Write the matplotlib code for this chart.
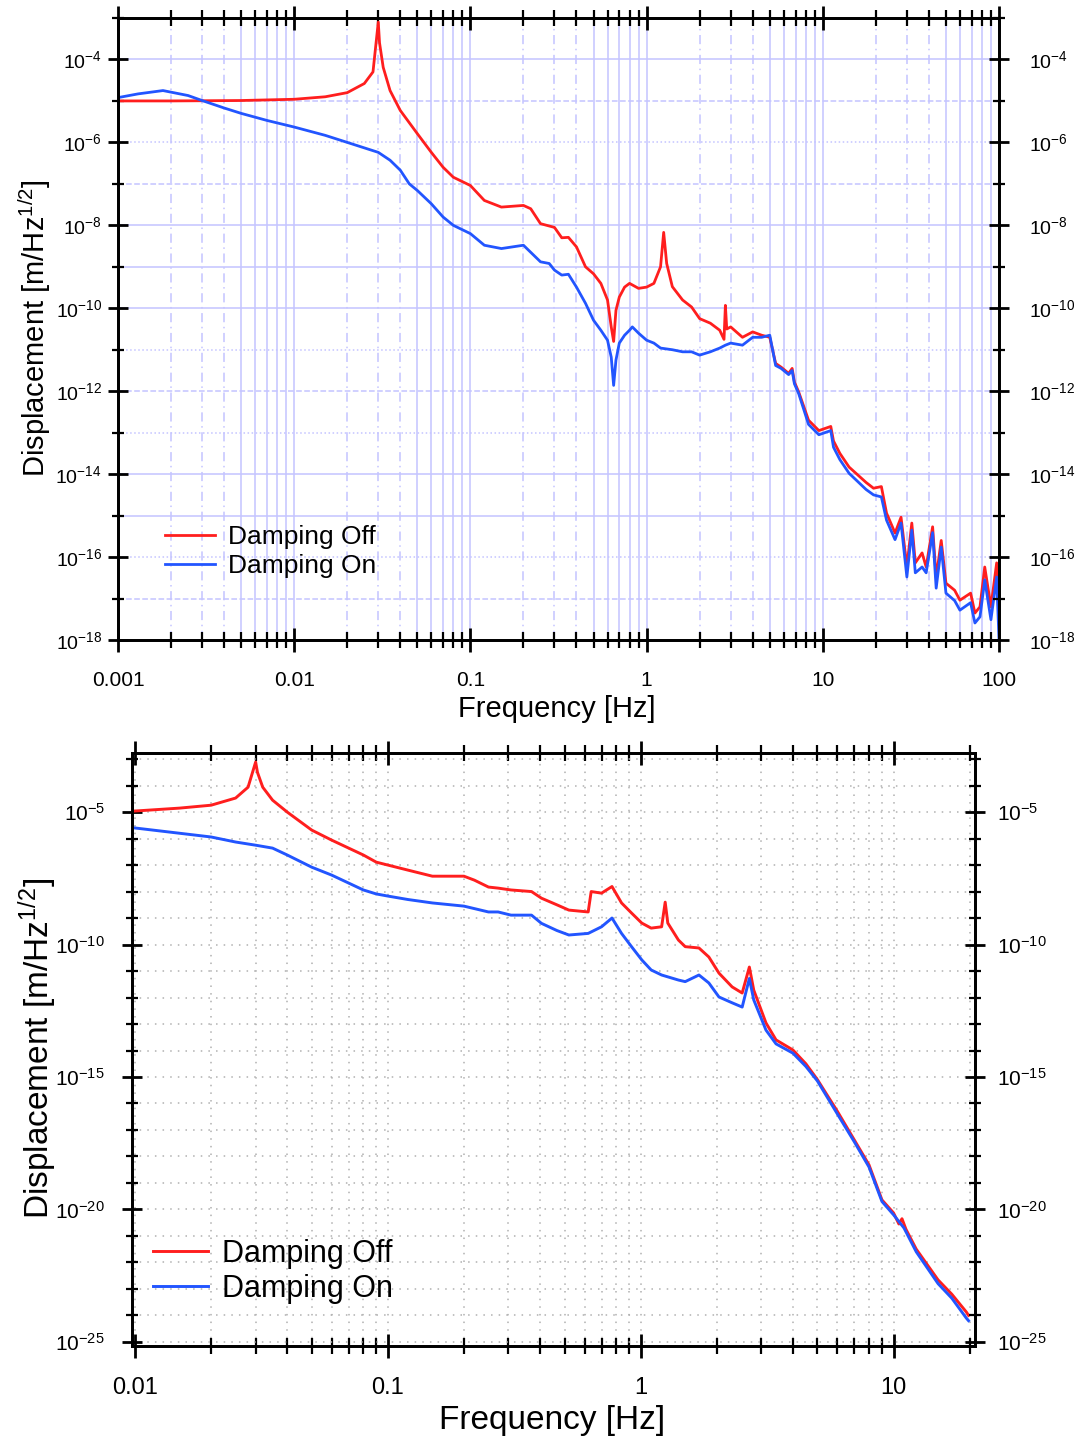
import matplotlib
matplotlib.use("Agg")
import matplotlib.pyplot as plt
import matplotlib.ticker as ticker
import numpy as np

plt.rcParams['font.family'] = ['Liberation Sans', 'DejaVu Sans']
plt.rcParams['mathtext.fontset'] = 'custom'
plt.rcParams['mathtext.rm'] = 'Liberation Sans'
plt.rcParams['mathtext.default'] = 'regular'

# ---- datos: panel superior (0.001 - 100 Hz), log10 del desplazamiento ----
f_top_off = [0.001, 0.002, 0.005, 0.01, 0.015, 0.02, 0.025, 0.028, 0.03, 0.0305,
             0.032, 0.035, 0.04, 0.05, 0.06, 0.07, 0.08, 0.1, 0.12, 0.15,
             0.2, 0.22, 0.25, 0.3, 0.33, 0.36, 0.4, 0.45, 0.5, 0.55,
             0.6, 0.63, 0.65, 0.67, 0.7, 0.75, 0.8, 0.9, 1.0, 1.1,
             1.2, 1.25, 1.3, 1.4, 1.6, 1.8, 2.0, 2.3, 2.6, 2.75,
             2.8, 2.85, 3.0, 3.5, 4.0, 4.5, 5.0, 5.4, 5.8, 6.4,
             6.7, 6.9, 7.3, 8.3, 9.5, 11.1, 11.5, 12.5, 14.1, 17.6,
             19.4, 21.5, 23, 25.7, 27.8, 30, 32, 33.5, 36.6, 38.6,
             42, 44, 47, 50, 56, 60, 69, 73, 78, 83,
             90, 97, 100]
log_top_off = [-5.0, -5.0, -4.99, -4.96, -4.9, -4.8, -4.58, -4.3, -3.1, -3.6,
               -4.19, -4.75, -5.23, -5.79, -6.24, -6.6, -6.84, -7.04, -7.4, -7.56,
               -7.52, -7.6, -7.96, -8.05, -8.3, -8.29, -8.52, -9.0, -9.17, -9.4,
               -9.8, -10.45, -10.8, -10.05, -9.73, -9.49, -9.4, -9.52, -9.49, -9.4,
               -9.0, -8.17, -8.92, -9.48, -9.8, -9.97, -10.25, -10.36, -10.53, -10.75,
               -9.93, -10.5, -10.45, -10.7, -10.57, -10.65, -10.7, -11.33, -11.42, -11.57,
               -11.45, -11.78, -12.02, -12.7, -12.95, -12.85, -13.2, -13.5, -13.83, -14.2,
               -14.34, -14.3, -14.94, -15.42, -15.04, -16.24, -15.18, -16.14, -15.9, -16.24,
               -15.27, -16.5, -15.6, -16.63, -16.8, -17.04, -16.87, -17.35, -17.2, -16.24,
               -17.2, -16.14, -17.59]

f_top_on = [0.001, 0.0013, 0.0018, 0.0025, 0.003, 0.004, 0.005, 0.007, 0.01, 0.015,
            0.02, 0.03, 0.035, 0.04, 0.045, 0.05, 0.06, 0.07, 0.08, 0.1,
            0.12, 0.15, 0.2, 0.25, 0.28, 0.3, 0.33, 0.36, 0.4, 0.45,
            0.5, 0.55, 0.6, 0.63, 0.65, 0.67, 0.7, 0.75, 0.8, 0.83,
            0.9, 1.0, 1.1, 1.2, 1.4, 1.6, 1.8, 2.0, 2.3, 2.6,
            2.8, 3.0, 3.5, 4.0, 4.5, 5.0, 5.4, 5.8, 6.4, 6.7,
            6.9, 7.3, 8.3, 9.5, 11.1, 11.5, 12.5, 14.1, 17.6, 19.4,
            21.5, 23, 25.7, 27.8, 30, 32, 33.5, 36.6, 38.6, 42,
            44, 47, 50, 56, 60, 69, 73, 78, 83, 90,
            97, 100]
log_top_on = [-4.92, -4.83, -4.75, -4.87, -4.99, -5.17, -5.3, -5.47, -5.63, -5.83,
              -6.0, -6.24, -6.43, -6.67, -7.0, -7.16, -7.48, -7.8, -8.0, -8.2,
              -8.48, -8.56, -8.48, -8.88, -8.92, -9.08, -9.2, -9.18, -9.49, -9.88,
              -10.29, -10.53, -10.77, -11.18, -11.86, -11.25, -10.84, -10.65, -10.53, -10.45,
              -10.6, -10.77, -10.84, -10.96, -11.0, -11.05, -11.05, -11.13, -11.05, -10.96,
              -10.89, -10.84, -10.89, -10.7, -10.7, -10.65, -11.38, -11.45, -11.6, -11.5,
              -11.82, -12.06, -12.8, -13.05, -12.95, -13.35, -13.65, -13.98, -14.37, -14.5,
              -14.55, -15.11, -15.58, -15.18, -16.48, -15.35, -16.38, -16.24, -16.38, -15.41,
              -16.75, -15.76, -16.87, -17.05, -17.28, -17.1, -17.59, -17.44, -16.55, -17.51,
              -16.48, -18.0]

# ---- datos: panel inferior (0.01 - 20 Hz) ----
f_bot_off = [0.01, 0.015, 0.02, 0.025, 0.028, 0.03, 0.0305, 0.032, 0.035, 0.04,
             0.05, 0.06, 0.07, 0.08, 0.09, 0.1, 0.12, 0.15, 0.2, 0.22,
             0.25, 0.273, 0.307, 0.37, 0.405, 0.466, 0.52, 0.62, 0.637, 0.7,
             0.77, 0.84, 0.92, 1.01, 1.1, 1.21, 1.25, 1.28, 1.41, 1.5,
             1.7, 1.86, 2.04, 2.3, 2.52, 2.69, 2.8, 3.13, 3.43, 4.0,
             4.5, 5.0, 6.0, 7.0, 8.0, 9.0, 10.0, 10.5, 10.8, 11.2,
             12.3, 15.0, 17.0, 19.4, 19.8]
log_bot_off = [-4.96, -4.85, -4.74, -4.47, -4.06, -3.11, -3.5, -4.06, -4.55, -5.0,
               -5.68, -6.06, -6.36, -6.62, -6.89, -7.0, -7.19, -7.42, -7.42, -7.57,
               -7.83, -7.87, -7.94, -8.0, -8.25, -8.5, -8.7, -8.77, -8.0, -8.06,
               -7.81, -8.43, -8.81, -9.19, -9.38, -9.33, -8.4, -9.19, -9.83, -10.08,
               -10.13, -10.47, -11.08, -11.6, -11.83, -10.85, -11.72, -12.96, -13.6, -13.98,
               -14.5, -15.1, -16.3, -17.38, -18.32, -19.64, -20.13, -20.55, -20.35, -20.75,
               -21.5, -22.66, -23.2, -23.87, -24.0]

f_bot_on = [0.01, 0.02, 0.025, 0.03, 0.035, 0.04, 0.05, 0.06, 0.07, 0.08,
            0.09, 0.1, 0.12, 0.15, 0.2, 0.25, 0.273, 0.307, 0.37, 0.405,
            0.466, 0.52, 0.62, 0.7, 0.77, 0.84, 0.92, 1.01, 1.1, 1.21,
            1.41, 1.5, 1.7, 1.86, 2.04, 2.3, 2.52, 2.69, 2.8, 3.13,
            3.43, 4.0, 4.5, 5.0, 6.0, 7.0, 8.0, 9.0, 10.0, 11.0,
            12.3, 15.0, 17.0, 19.4, 19.8]
log_bot_on = [-5.6, -5.94, -6.13, -6.25, -6.36, -6.62, -7.08, -7.38, -7.68, -7.94,
              -8.09, -8.17, -8.3, -8.43, -8.55, -8.77, -8.77, -8.89, -8.89, -9.2,
              -9.47, -9.64, -9.58, -9.33, -9.0, -9.58, -10.08, -10.58, -10.96, -11.15,
              -11.34, -11.4, -11.15, -11.45, -11.98, -12.2, -12.36, -11.28, -12.09, -13.23,
              -13.75, -14.1, -14.6, -15.15, -16.4, -17.45, -18.4, -19.7, -20.2, -20.7,
              -21.6, -22.8, -23.35, -24.1, -24.2]

x_ticks_top = [0.001, 0.01, 0.1, 1, 10, 100]
x_ticks_bot = [0.01, 0.1, 1, 10]
y_exp_top = list(range(-18, -3, 2))      # etiquetas cada 2 décadas
y_exp_bot = list(range(-25, -4, 5))      # etiquetas cada 5 décadas

# estilo de la rejilla horizontal del panel superior (por década)
h_grid_top = {-4: '-', -5: '--', -6: ':', -7: '--', -8: '-', -9: '-', -10: '-',
              -11: ':', -12: '--', -13: ':', -14: '-', -15: '-', -16: ':',
              -17: '--', -18: ':'}

RED = '#ff1e1e'
BLUE = '#2255ff'
W, H = 1076, 1444


def fmt_x(v, pos):
    return '%g' % v


def fmt_pow(v, pos):
    e = int(round(np.log10(v)))
    return r'$10^{%d}$' % e


def preparar_ejes(ax, ax_r, xlim, ylim, xticks, yexp, xsize, ysize, ypad_l, ypad_r):
    for a in (ax, ax_r):
        a.set_xscale('log')
        a.set_yscale('log')
    lo = int(np.ceil(np.log10(ylim[0])))
    hi = int(np.floor(np.log10(ylim[1])))
    decadas = [10.0 ** e for e in range(lo, hi + 1) if e not in yexp]
    for a in (ax, ax_r):
        a.set_xlim(xlim)
        a.set_ylim(ylim)
        for s in a.spines.values():
            s.set_linewidth(2.0)
        a.yaxis.set_major_locator(ticker.FixedLocator([10.0 ** e for e in yexp]))
        a.yaxis.set_minor_locator(ticker.FixedLocator(decadas))
        a.yaxis.set_major_formatter(ticker.FuncFormatter(fmt_pow))
        a.yaxis.set_minor_formatter(ticker.NullFormatter())
    ax.xaxis.set_major_locator(ticker.FixedLocator(xticks))
    ax.xaxis.set_minor_locator(ticker.LogLocator(base=10.0, subs=np.arange(2, 10), numticks=100))
    ax.xaxis.set_major_formatter(ticker.FuncFormatter(fmt_x))
    ax.xaxis.set_minor_formatter(ticker.NullFormatter())
    ax.tick_params(axis='x', which='major', direction='inout', length=17, width=2,
                   top=True, labelsize=xsize, pad=14)
    ax.tick_params(axis='x', which='minor', direction='inout', length=11, width=1.6, top=True)
    ax.tick_params(axis='y', which='major', direction='inout', length=15, width=2,
                   right=False, labelsize=ysize, pad=ypad_l)
    ax.tick_params(axis='y', which='minor', direction='inout', length=9, width=1.6, right=False)
    ax_r.tick_params(axis='y', which='major', direction='inout', length=15, width=2,
                     left=False, labelsize=ysize, pad=ypad_r)
    ax_r.tick_params(axis='y', which='minor', direction='inout', length=9, width=1.6, left=False)


fig = plt.figure(figsize=(W / 100, H / 100), dpi=100)

# ================= panel superior =================
ax1 = fig.add_axes([118 / W, 1 - 640 / H, 881 / W, 622 / H])
ax1r = ax1.twinx()
preparar_ejes(ax1, ax1r, (0.001, 100), (1e-18, 1e-3), x_ticks_top, y_exp_top, 15, 14, 4, 14)

gcol = '#c4c4ff'
for e, ls in h_grid_top.items():
    ax1.axhline(10.0 ** e, color=gcol, lw=1.1, ls=ls, zorder=0)
for d in range(-3, 2):
    for m in range(1, 10):
        x = m * 10.0 ** d
        ls = (0, (6, 3, 1, 3)) if m in (2, 3, 4) else '-'
        ax1.axvline(x, color=gcol, lw=1.1, ls=ls, zorder=0)

ax1.plot(f_top_off, 10.0 ** np.array(log_top_off), color=RED, lw=2.0, label='Damping Off')
ax1.plot(f_top_on, 10.0 ** np.array(log_top_on), color=BLUE, lw=2.0, label='Damping On')
ax1.legend(loc='center left', bbox_to_anchor=(0.053, 0.142), frameon=False,
           fontsize=19, handlelength=1.9, handletextpad=0.5, labelspacing=0.2,
           borderpad=0, borderaxespad=0)

fig.text(557 / W, 1 - 709 / H, 'Frequency [Hz]', ha='center', va='center', fontsize=21)
fig.text(35 / W, 1 - 328 / H, r'Displacement [m/Hz$^{1/2}$]', ha='center', va='center',
         rotation=90, fontsize=21)

# ================= panel inferior =================
ax2 = fig.add_axes([132 / W, 1 - 1346 / H, 843 / W, 593 / H])
ax2r = ax2.twinx()
preparar_ejes(ax2, ax2r, (0.00973, 21.0), (7e-26, 1.7e-3), x_ticks_bot, y_exp_bot, 17, 15, 12, 8)
ax2.grid(which='both', axis='x', color='#b0b0b0', lw=1.1, ls=(0, (1, 4)), zorder=0)
ax2.grid(which='both', axis='y', color='#b0b0b0', lw=1.1, ls=(0, (1, 4)), zorder=0)

ax2.plot(f_bot_off, 10.0 ** np.array(log_bot_off), color=RED, lw=2.1, label='Damping Off')
ax2.plot(f_bot_on, 10.0 ** np.array(log_bot_on), color=BLUE, lw=2.1, label='Damping On')
ax2.legend(loc='center left', bbox_to_anchor=(0.025, 0.126), frameon=False,
           fontsize=22, handlelength=1.8, handletextpad=0.45, labelspacing=0.15,
           borderpad=0, borderaxespad=0)

fig.text(552 / W, 1 - 1421 / H, 'Frequency [Hz]', ha='center', va='center', fontsize=24)
fig.text(38 / W, 1 - 1048 / H, r'Displacement [m/Hz$^{1/2}$]', ha='center', va='center',
         rotation=90, fontsize=24)

fig.savefig('out.png', dpi=100)
